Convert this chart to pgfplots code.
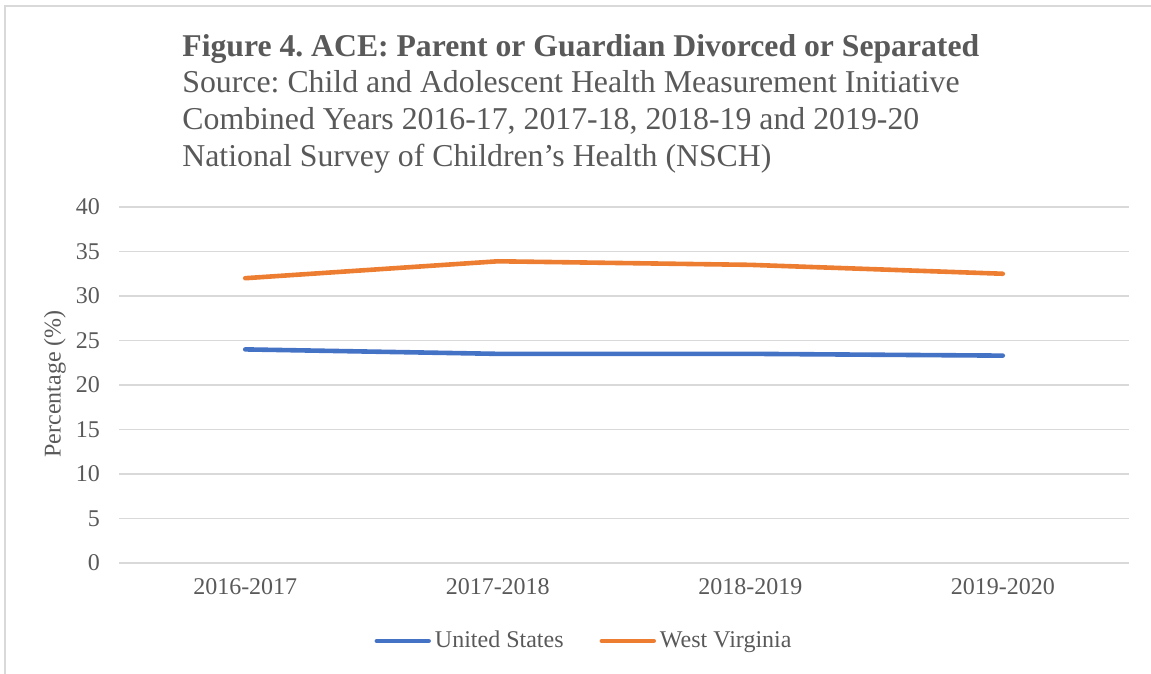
\documentclass[border=0pt]{standalone}
\usepackage{pgfplots}
\pgfplotsset{compat=1.18}
\usepackage{fontspec}
\setmainfont{Liberation Serif}
\frenchspacing
\definecolor{txt}{HTML}{595959}
\definecolor{grd}{HTML}{D9D9D9}
\definecolor{usblue}{HTML}{4472C4}
\definecolor{wvorange}{HTML}{ED7D31}
\begin{document}
\begin{tikzpicture}[x=0.5pt,y=0.5pt]
\useasboundingbox (0,0) rectangle (1151,674);
\draw[grd, line width=0.8pt] (5,-40) -- (5,668) -- (1200,668);
\node[anchor=base west, text=txt, font=\fontsize{15.85}{18}\selectfont\bfseries, inner sep=0pt] at (182,617) {Figure 4. ACE: Parent or Guardian Divorced or Separated};
\node[anchor=base west, text=txt, font=\fontsize{15.9}{18}\selectfont, inner sep=0pt] at (182,581) {Source: Child and Adolescent Health Measurement Initiative};
\node[anchor=base west, text=txt, font=\fontsize{15.9}{18}\selectfont, inner sep=0pt] at (182,544) {Combined Years 2016-17, 2017-18, 2018-19 and 2019-20};
\node[anchor=base west, text=txt, font=\fontsize{15.9}{18}\selectfont, inner sep=0pt] at (182,507) {National Survey of Children’s Health (NSCH)};
\node[rotate=90, text=txt, font=\fontsize{12}{14}\selectfont, inner sep=0pt] at (55,290) {Percentage (\%)};
\begin{axis}[
  at={(59.5pt,55.5pt)}, anchor=south west,
  width=505pt, height=178pt, scale only axis,
  xmin=-0.5, xmax=3.5, ymin=0, ymax=40,
  ytick={0,5,...,40},
  xtick={0,1,2,3},
  xticklabels={2016-2017,2017-2018,2018-2019,2019-2020},
  axis line style={draw=none},
  major tick length=0pt,
  ymajorgrids, grid style={grd, line width=0.7pt},
  /pgf/number format/assume math mode=true,
  ticklabel style={text=txt, font=\fontsize{12}{14}\selectfont},
  yticklabel style={xshift=-6pt},
  xticklabel style={yshift=-4pt},
  legend style={at={(0.4614,-0.219)}, anchor=center, draw=none, fill=none,
    legend columns=2, font=\fontsize{12}{14}\selectfont, text=txt,
    /tikz/every even column/.append style={column sep=16pt}},
  legend image code/.code={\draw[#1, line width=2.2pt, line cap=round] (0pt,0pt) -- (26pt,0pt);},
  clip=false,
]
\addplot[usblue, line width=2.3pt, line cap=round, line join=round] coordinates {(0,24.0) (1,23.5) (2,23.5) (3,23.3)};
\addlegendentry{United States}
\addplot[wvorange, line width=2.3pt, line cap=round, line join=round] coordinates {(0,32.0) (1,33.9) (2,33.5) (3,32.5)};
\addlegendentry{West Virginia}
\end{axis}
\end{tikzpicture}
\end{document}
